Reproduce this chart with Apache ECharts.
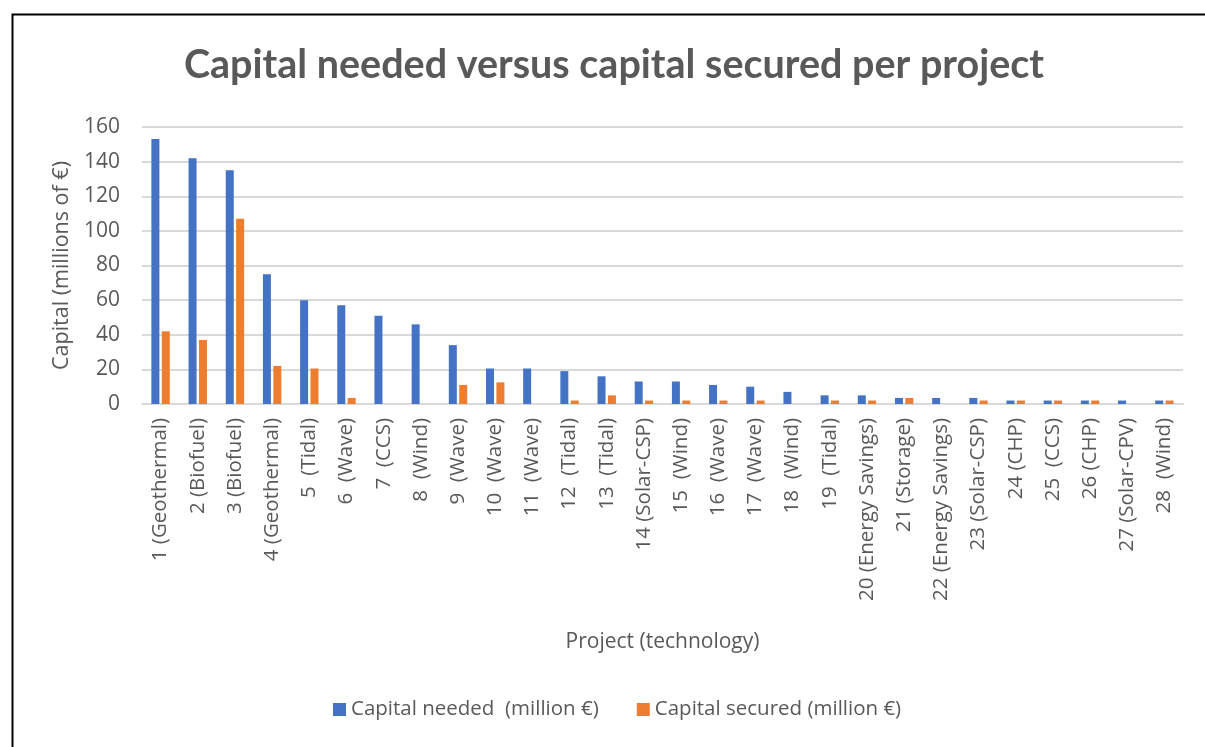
<!DOCTYPE html>
<html>
<head>
<meta charset="utf-8">
<script src="https://cdn.jsdelivr.net/npm/echarts@6/dist/echarts.min.js"></script>
<style>
  html, body { margin: 0; padding: 0; background: #ffffff; }
  #chart { width: 1205px; height: 747px; }
</style>
</head>
<body>
<div id="chart"></div>
<script>
// Project labels (number + technology)
const projects = [
  '1 (Geothermal)', '2 (Biofuel)', '3 (Biofuel)', '4 (Geothermal)',
  '5  (Tidal)', '6  (Wave)', '7  (CCS)', '8  (Wind)', '9  (Wave)',
  '10  (Wave)', '11  (Wave)', '12  (Tidal)', '13  (Tidal)', '14 (Solar-CSP)',
  '15  (Wind)', '16  (Wave)', '17  (Wave)', '18  (Wind)', '19  (Tidal)',
  '20 (Energy Savings)', '21 (Storage)', '22 (Energy Savings)', '23 (Solar-CSP)',
  '24 (CHP)', '25  (CCS)', '26 (CHP)', '27 (Solar-CPV)', '28  (Wind)'
];

// Capital needed per project (million €)
const capitalNeeded = [
  153, 142, 135, 75, 60, 57, 51, 46, 34, 20.5, 20.5, 19, 16, 13,
  13, 11, 10, 7, 5, 5, 3.5, 3.5, 3.5, 2, 2, 2, 2, 2
];

// Capital secured per project (million €)
const capitalSecured = [
  42, 37, 107, 22, 20.5, 3.5, 0, 0, 11, 12.5, 0, 2, 5, 2,
  2, 2, 2, 0, 2, 2, 3.5, 0, 2, 2, 2, 2, 0, 2
];

// Value axis ticks
const yTicks = { min: 0, max: 160, interval: 20 };

const textColor = '#595959';
const titleFont = 'Lato, "Open Sans", sans-serif';
const bodyFont = '"Open Sans", "Noto Sans", sans-serif';

const chart = echarts.init(document.getElementById('chart'), null, { renderer: 'canvas' });

chart.setOption({
  backgroundColor: '#ffffff',
  animation: false,
  textStyle: { fontFamily: bodyFont, color: textColor },
  graphic: [{
    type: 'rect',
    left: 10, top: 12,
    shape: { width: 1220, height: 760 },
    style: { fill: 'none', stroke: '#000000', lineWidth: 2 },
    silent: true,
    z: 100
  }],
  title: {
    text: 'Capital needed versus capital secured per project',
    left: 609,
    textAlign: 'center',
    top: 40,
    textStyle: { fontFamily: titleFont, fontSize: 39.5, fontWeight: 'bold', color: textColor }
  },
  legend: {
    bottom: 22,
    left: 328,
    itemWidth: 13,
    itemHeight: 13,
    itemGap: 38,
    icon: 'rect',
    textStyle: { fontFamily: bodyFont, fontSize: 20.5, color: textColor },
    data: ['Capital needed  (million €)', 'Capital secured (million €)']
  },
  grid: { left: 142, right: 22, top: 127, height: 277 },
  xAxis: {
    type: 'category',
    data: projects,
    name: 'Project (technology)',
    nameLocation: 'middle',
    nameGap: 228,
    nameTextStyle: { fontFamily: bodyFont, fontSize: 21, color: textColor },
    axisLine: { lineStyle: { color: '#d9d9d9', width: 2 } },
    axisTick: { show: false },
    axisLabel: {
      interval: 0,
      rotate: 90,
      margin: 14,
      fontSize: 20.5,
      color: textColor,
      fontFamily: bodyFont
    }
  },
  yAxis: {
    type: 'value',
    min: yTicks.min,
    max: yTicks.max,
    interval: yTicks.interval,
    name: 'Capital (millions of €)',
    nameLocation: 'middle',
    nameGap: 66,
    nameRotate: 90,
    nameTextStyle: { fontFamily: bodyFont, fontSize: 21.5, color: textColor },
    axisLine: { show: false },
    axisTick: { show: false },
    axisLabel: { fontSize: 21, color: textColor, margin: 22, fontFamily: bodyFont },
    splitLine: { lineStyle: { color: '#d9d9d9', width: 2 } }
  },
  series: [
    {
      name: 'Capital needed  (million €)',
      type: 'bar',
      data: capitalNeeded,
      barWidth: 8,
      barGap: '30%',
      itemStyle: { color: '#4472c4' }
    },
    {
      name: 'Capital secured (million €)',
      type: 'bar',
      data: capitalSecured,
      barWidth: 8,
      itemStyle: { color: '#ed7d31' }
    }
  ]
});
</script>
</body>
</html>
